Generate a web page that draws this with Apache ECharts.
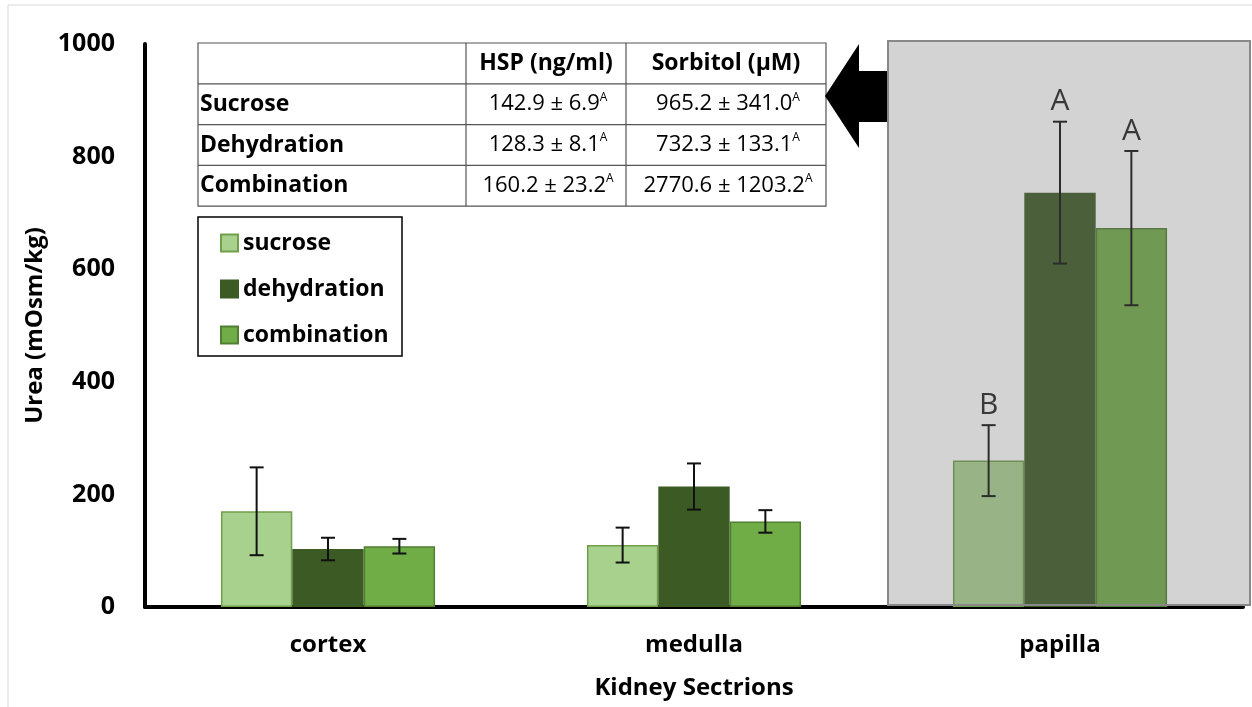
<!DOCTYPE html>
<html>
<head>
<meta charset="utf-8">
<script src="https://cdn.jsdelivr.net/npm/echarts@6/dist/echarts.min.js"></script>
<style>
  html, body { margin: 0; padding: 0; background: #fff; }
  #chart { width: 1252px; height: 707px; }
</style>
</head>
<body>
<div id="chart"></div>
<script>
const categories = ['cortex', 'medulla', 'papilla'];
const seriesNames = ['sucrose', 'dehydration', 'combination'];

const sucrose = [170, 110, 260];
const sucroseErr = [78, 31, 63];
const dehydration = [103, 214, 736];
const dehydrationErr = [20, 41, 126];
const combination = [108, 152, 673];
const combinationErr = [13, 20, 137];
const sigLetters = [['', '', 'B'], ['', '', 'A'], ['', '', 'A']];

const yTicks = [0, 200, 400, 600, 800, 1000];

// inset table
const tableHeader = ['', 'HSP (ng/ml)', 'Sorbitol (µM)'];
const tableRows = ['Sucrose', 'Dehydration', 'Combination'];
const hspValues = ['142.9 ± 6.9', '128.3 ± 8.1', '160.2 ± 23.2'];
const sorbitolValues = ['965.2 ± 341.0', '732.3 ± 133.1', '2770.6 ± 1203.2'];
const tableSig = ['A', 'A', 'A'];

const FONT = '"Open Sans", Lato, sans-serif';
const fills = ['#a9d18e', '#3b5a24', '#70ad47'];
const borders = ['#6f9f4a', '#3b5a24', '#507e32'];
const catGap = 0.415;

const means = [sucrose, dehydration, combination];
const errs = [sucroseErr, dehydrationErr, combinationErr];

const chart = echarts.init(document.getElementById('chart'));

const barSeries = seriesNames.map((name, i) => ({
  name,
  type: 'bar',
  data: means[i],
  barGap: '0%',
  barCategoryGap: (catGap * 100) + '%',
  itemStyle: { color: fills[i], borderColor: borders[i], borderWidth: 1.5 },
  z: 2
}));

const errSeries = seriesNames.map((name, i) => ({
  name: name + '-err',
  type: 'custom',
  z: 5,
  data: categories.map((c, k) => [k, means[i][k] - errs[i][k], means[i][k] + errs[i][k]]),
  renderItem: (params, api) => {
    const k = api.value(0);
    const catW = api.size([1, 0])[0];
    const barW = catW * (1 - catGap) / 3;
    const lo = api.coord([k, api.value(1)]);
    const hi = api.coord([k, api.value(2)]);
    const x = lo[0] + (i - 1) * barW;
    const cap = 7;
    const st = { stroke: '#111', lineWidth: 2 };
    const children = [
      { type: 'line', shape: { x1: x, y1: hi[1], x2: x, y2: lo[1] }, style: st },
      { type: 'line', shape: { x1: x - cap, y1: hi[1], x2: x + cap, y2: hi[1] }, style: st },
      { type: 'line', shape: { x1: x - cap, y1: lo[1], x2: x + cap, y2: lo[1] }, style: st }
    ];
    const letter = sigLetters[i][k];
    if (letter) {
      children.push({
        type: 'text',
        style: {
          text: letter, x: x, y: hi[1] - 5,
          align: 'center', verticalAlign: 'bottom',
          font: '30px ' + FONT, fill: '#222'
        }
      });
    }
    return { type: 'group', children };
  }
}));

// table graphics
const tX = 198, tY = 43, colX = [198, 466, 626, 826], rowH = 40.8;
const tableEls = [];
const lineSt = { stroke: '#555', lineWidth: 1.2 };
tableEls.push({ type: 'rect', shape: { x: tX, y: tY, width: 826 - 198, height: rowH * 4 }, style: { fill: '#fff', stroke: '#555', lineWidth: 1.2 } });
for (let r = 1; r < 4; r++) {
  tableEls.push({ type: 'line', shape: { x1: tX, y1: tY + r * rowH, x2: 826, y2: tY + r * rowH }, style: lineSt });
}
[466, 626].forEach(cx => tableEls.push({ type: 'line', shape: { x1: cx, y1: tY, x2: cx, y2: tY + 4 * rowH }, style: lineSt }));
tableHeader.forEach((h, c) => {
  if (!h) return;
  tableEls.push({ type: 'text', style: { text: h, x: (colX[c] + colX[c + 1]) / 2, y: tY + rowH / 2, align: 'center', verticalAlign: 'middle', font: 'bold 23px ' + FONT, fill: '#000' } });
});
tableRows.forEach((name, r) => {
  const cy = tY + (r + 1.5) * rowH;
  tableEls.push({ type: 'text', style: { text: name, x: tX + 2, y: cy, align: 'left', verticalAlign: 'middle', font: 'bold 23px ' + FONT, fill: '#000' } });
  [hspValues[r], sorbitolValues[r]].forEach((v, c) => {
    tableEls.push({
      type: 'text',
      style: {
        text: '{v|' + v + '}{s|' + tableSig[r] + '}',
        x: (colX[c + 1] + colX[c + 2]) / 2 + 2, y: cy,
        align: 'center', verticalAlign: 'middle',
        rich: {
          v: { font: '22px ' + FONT, fill: '#000' },
          s: { font: '12px ' + FONT, fill: '#000', padding: [0, 0, 14, 0] }
        }
      }
    });
  });
});

const labelFont = { fontFamily: FONT, fontWeight: 'bold', fontSize: 24, color: '#000' };

chart.setOption({
  animation: false,
  backgroundColor: '#fff',
  grid: { left: 145, right: 9, top: 44, bottom: 100, containLabel: false },
  legend: {
    data: seriesNames,
    orient: 'vertical',
    left: 215, top: 226,
    icon: 'rect',
    itemWidth: 17, itemHeight: 17,
    itemGap: 22,
    textStyle: { fontFamily: FONT, fontWeight: 'bold', fontSize: 23, color: '#000', lineHeight: 24 }
  },
  xAxis: {
    type: 'category',
    data: categories,
    name: 'Kidney Sectrions',
    nameLocation: 'middle',
    nameGap: 69,
    nameTextStyle: labelFont,
    axisLine: { lineStyle: { color: '#000', width: 4 } },
    axisTick: { show: false },
    axisLabel: Object.assign({ margin: 26 }, labelFont)
  },
  yAxis: {
    type: 'value',
    min: yTicks[0], max: yTicks[yTicks.length - 1], interval: 200,
    name: 'Urea (mOsm/kg)',
    nameLocation: 'middle',
    nameGap: 89,
    nameTextStyle: labelFont,
    axisLine: { show: true, lineStyle: { color: '#000', width: 4 } },
    axisTick: { show: false },
    splitLine: { show: false },
    axisLabel: Object.assign({ margin: 30, formatter: v => String(v) }, labelFont, { fontSize: 25 })
  },
  graphic: [
    { type: 'rect', z: 0, silent: true, shape: { x: 8, y: 5, width: 1260, height: 720 }, style: { fill: 'none', stroke: '#d9d9d9', lineWidth: 1 } },
    { type: 'group', z: 10, children: tableEls },
    { type: 'rect', z: 10, shape: { x: 198, y: 217, width: 204, height: 139 }, style: { fill: 'none', stroke: '#000', lineWidth: 1.5 } },
    {
      type: 'polygon', z: 10,
      shape: { points: [[825, 96], [859, 44], [859, 71], [887, 71], [887, 122], [859, 122], [859, 148]] },
      style: { fill: '#000' }
    },
    { type: 'rect', z: 100, silent: true, shape: { x: 888, y: 41, width: 362, height: 564 }, style: { fill: 'rgba(112,110,112,0.3)', stroke: '#888', lineWidth: 2 } }
  ],
  series: [...barSeries, ...errSeries]
});
</script>
</body>
</html>
